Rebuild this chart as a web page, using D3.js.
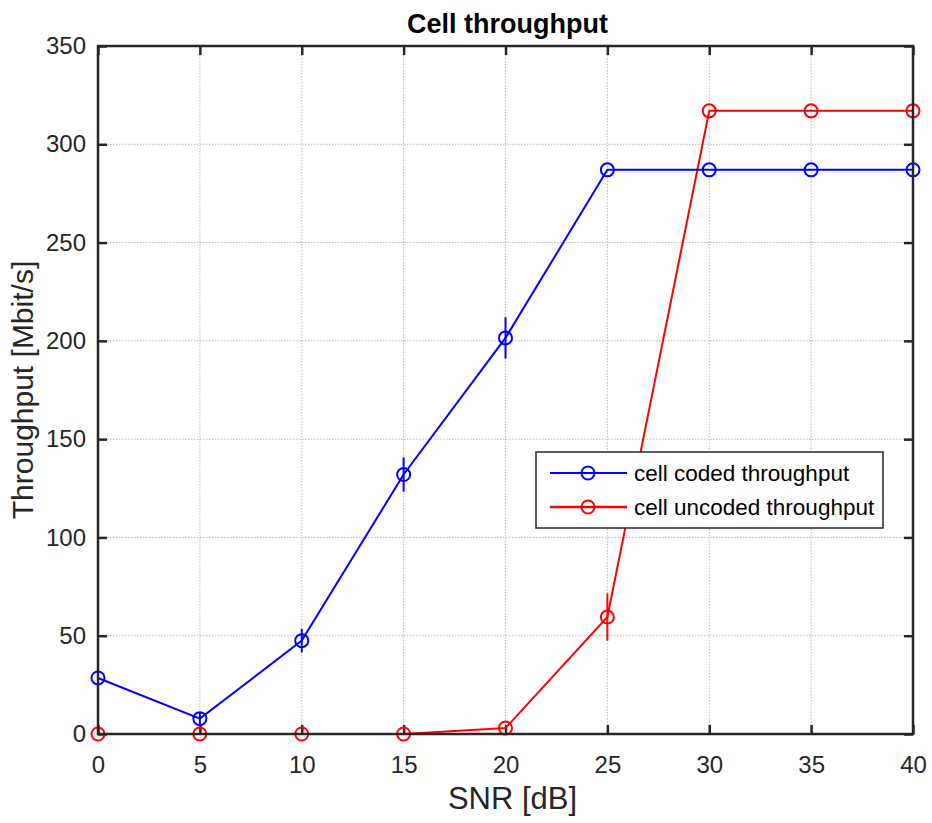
<!DOCTYPE html>
<html><head><meta charset="utf-8">
<script src="https://cdn.jsdelivr.net/npm/d3@7"></script>
<style>body{margin:0;background:#fff}svg{display:block}text{font-family:"Liberation Sans",Arial,sans-serif}</style>
</head><body><svg id="c" width="932" height="823"></svg>
<script>
const snr = [0,5,10,15,20,25,30,35,40];
const coded = [28.5,7.8,47.5,132,201.5,287,287,287,287];
const codedErr = [0,3,6,8.7,10.5,0,0,0,0];
const uncoded = [0,0,0,0,3,59.5,317,317,317];
const uncodedErr = [0,0,0,0,0.5,12,0,0,0];
const xTicks = [0,5,10,15,20,25,30,35,40];
const yTicks = [0,50,100,150,200,250,300,350];
const seriesNames = ["cell coded throughput","cell uncoded throughput"];
const colors = ["#0000ff","#ff0000"];

const svg = d3.select("#c");
const L=98,R=913,T=46,B=734;
const x = d3.scaleLinear().domain([0,40]).range([L,R]);
const y = d3.scaleLinear().domain([0,350]).range([B,T]);

// grid
const g = svg.append("g");
g.selectAll(".gx").data(xTicks).enter().append("line")
  .attr("x1",d=>x(d)).attr("x2",d=>x(d)).attr("y1",T).attr("y2",B)
  .attr("stroke","#b8b8b8").attr("stroke-width",1).attr("stroke-dasharray","1.5,1.5");
g.selectAll(".gy").data(yTicks).enter().append("line")
  .attr("y1",d=>y(d)).attr("y2",d=>y(d)).attr("x1",L).attr("x2",R)
  .attr("stroke","#b8b8b8").attr("stroke-width",1).attr("stroke-dasharray","1.5,1.5");

// axes with inward ticks
const ax = svg.append("g");
const tl = 9;
ax.append("g").attr("transform",`translate(0,${B})`).call(d3.axisBottom(x).tickValues(xTicks).tickSize(-tl).tickPadding(22).tickFormat(d3.format("d")));
ax.append("g").attr("transform",`translate(0,${T})`).call(d3.axisTop(x).tickValues(xTicks).tickSize(-tl).tickFormat(""));
ax.append("g").attr("transform",`translate(${L},0)`).call(d3.axisLeft(y).tickValues(yTicks).tickSize(-tl).tickPadding(12).tickFormat(d3.format("d")));
ax.append("g").attr("transform",`translate(${R},0)`).call(d3.axisRight(y).tickValues(yTicks).tickSize(-tl).tickFormat(""));
ax.selectAll(".domain").remove();
ax.selectAll(".tick line").attr("stroke","#262626").attr("stroke-width",2.5);
ax.selectAll(".tick text").style("font-size","24px").attr("fill","#262626");

// series
const sets = [{v:coded,e:codedErr,c:colors[0]},{v:uncoded,e:uncodedErr,c:colors[1]}];
const line = d3.line().x((d,i)=>x(snr[i])).y(d=>y(d));
sets.slice().reverse().forEach(s=>{
  const sg = svg.append("g");
  sg.selectAll("line.err").data(s.v).enter().append("line")
    .attr("x1",(d,i)=>x(snr[i])).attr("x2",(d,i)=>x(snr[i]))
    .attr("y1",(d,i)=>y(d+s.e[i])).attr("y2",(d,i)=>y(d-s.e[i]))
    .attr("stroke",s.c).attr("stroke-width",2);
  sg.append("path").datum(s.v).attr("d",line).attr("fill","none").attr("stroke",s.c).attr("stroke-width",2);
  sg.selectAll("circle").data(s.v).enter().append("circle")
    .attr("cx",(d,i)=>x(snr[i])).attr("cy",d=>y(d)).attr("r",6.5)
    .attr("fill","none").attr("stroke",s.c).attr("stroke-width",2);
});

// box
svg.append("rect").attr("x",L).attr("y",T).attr("width",R-L).attr("height",B-T)
  .attr("fill","none").attr("stroke","#262626").attr("stroke-width",2.5);

// legend
const lg = svg.append("g");
lg.append("rect").attr("x",536).attr("y",452).attr("width",347).attr("height",76)
  .attr("fill","#fff").attr("stroke","#262626").attr("stroke-width",1.5);
seriesNames.forEach((n,i)=>{
  const yy = 473+i*34;
  lg.append("line").attr("x1",550).attr("x2",627).attr("y1",yy).attr("y2",yy).attr("stroke",colors[i]).attr("stroke-width",i?2.5:2);
  lg.append("circle").attr("cx",588).attr("cy",yy).attr("r",6.5).attr("fill","none").attr("stroke",colors[i]).attr("stroke-width",2);
  lg.append("text").attr("x",634).attr("y",yy).attr("dy","0.35em").style("font-size","22.5px").attr("fill","#000").text(n);
});

// labels
svg.append("text").attr("x",(L+R)/2+2).attr("y",33).attr("text-anchor","middle")
  .style("font-size","27px").attr("font-weight","bold").attr("fill","#000").text("Cell throughput");
svg.append("text").attr("x",(L+R)/2+7).attr("y",809).attr("text-anchor","middle")
  .style("font-size","31px").attr("fill","#262626").text("SNR [dB]");
svg.append("text").attr("transform",`translate(33,${(T+B)/2}) rotate(-90)`).attr("text-anchor","middle")
  .style("font-size","30px").attr("fill","#262626").text("Throughput [Mbit/s]");
</script></body></html>
